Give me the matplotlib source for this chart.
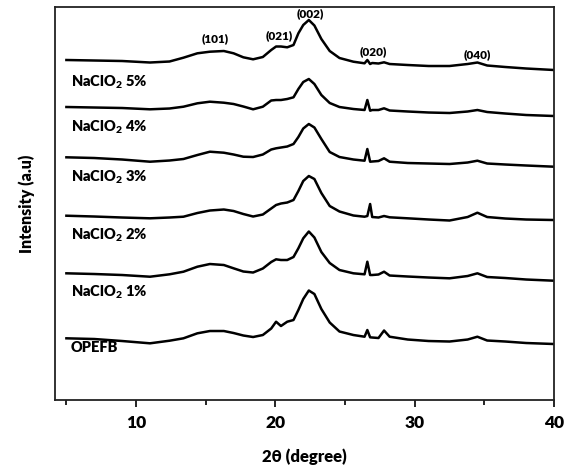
import numpy as np
import matplotlib
matplotlib.use('Agg')
import matplotlib.pyplot as plt
from matplotlib.ticker import MultipleLocator

plt.rcParams['font.family'] = ['Lato', 'DejaVu Sans']
plt.rcParams['font.weight'] = 'bold'
plt.rcParams['mathtext.fontset'] = 'custom'
plt.rcParams['mathtext.rm'] = 'Lato:heavy'
plt.rcParams['mathtext.default'] = 'rm'

# 2-theta positions (degree)
two_theta = [5, 7, 9, 11, 12.4, 13.4, 14.4, 15.3, 16.3, 17.0, 17.7, 18.4, 19.1, 19.7,
             20.05, 20.4, 20.85, 21.3, 21.65, 22.0, 22.4, 22.8, 23.3, 23.9, 24.6, 25.6,
             26.4, 26.6, 26.8, 26.95, 27.4, 27.8, 28.2, 29.5, 31, 32.5, 33.8, 34.5, 35.2,
             36.5, 38, 40]

# stacked intensities (a.u.), already offset as in the figure
naclo2_5 = [340, 339.5, 339, 337.5, 338.5, 342.3, 346.7, 348.3, 349, 346.7, 342.7, 340.7, 343, 350,
            353.5, 353.5, 352.7, 355, 366.7, 375, 380, 374.5, 361, 349, 342, 338.3,
            336.7, 340, 336, 337, 336.5, 337.7, 336, 335, 334, 334, 336, 337.5, 334.5,
            333, 331.5, 330]
naclo2_4 = [293, 292.5, 292, 290.7, 291.5, 293.3, 296.7, 298.3, 297.3, 296, 293.5, 290.7, 293.3, 299.5,
            300, 300, 301, 302.7, 311, 318, 321, 316, 305, 297, 293, 291,
            290, 300, 289.3, 290, 290, 291.7, 289.5, 288.5, 287.5, 287, 288.5, 290, 288,
            286.5, 285, 284]
naclo2_3 = [242.7, 242, 240.5, 238.3, 239.5, 241, 245, 248.3, 247.3, 245.5, 243.3, 243, 245.5, 250.5,
            251.7, 252.5, 253.5, 256, 263, 271.5, 276, 272.5, 261, 248, 243, 240.5,
            239.3, 251, 238.3, 238.5, 239, 241.7, 238.3, 237, 236.5, 236, 237.5, 239.3, 236.5,
            235.5, 234.5, 233.3]
naclo2_2 = [184.3, 183.5, 182.5, 181.7, 182.5, 183.3, 187, 189.5, 190.5, 189, 186, 183.5, 185.5, 191.5,
            195, 196.5, 197.5, 200, 209, 219, 224, 221, 207, 194, 188.5, 184.5,
            183.3, 184, 196, 183, 182.5, 184, 182.7, 181.7, 180.5, 179.5, 183, 187.3, 183,
            181.5, 180.5, 180]
naclo2_1 = [126.7, 126, 125, 123.3, 125.7, 128.3, 133.3, 136, 135, 131.7, 128.5, 127.5, 131.5, 138,
            140.7, 140, 140, 143, 151.7, 161.7, 168.5, 162.5, 148, 137, 130, 126.7,
            125.7, 138.3, 125, 125, 125.5, 128.3, 124.5, 123.5, 122.5, 121.7, 124, 126.7, 123,
            122, 120.5, 119.3]
opefb = [61.7, 61, 59, 56.7, 59.3, 61.7, 66.7, 69, 69, 67, 64.5, 63, 65, 71.5,
         78.3, 74, 78.3, 80, 90, 101, 109.5, 106, 91, 77.5, 68.5, 65,
         63.3, 70, 62.7, 62.5, 62, 69.5, 63.3, 60.5, 59, 58.5, 60.5, 63.3, 59.5,
         58.5, 57, 56]

series = [naclo2_5, naclo2_4, naclo2_3, naclo2_2, naclo2_1, opefb]
labels = ['NaClO$_2$ 5%', 'NaClO$_2$ 4%', 'NaClO$_2$ 3%', 'NaClO$_2$ 2%',
          'NaClO$_2$ 1%', 'OPEFB']
label_y = [318, 273, 223, 165, 108, 53]

# miller indices over the top pattern
hkl = ['(101)', '(021)', '(002)', '(020)', '(040)']
hkl_x = [15.7, 20.3, 22.5, 27.0, 34.5]
hkl_y = [361, 364, 386, 348, 345]

fig = plt.figure(figsize=(5.68, 4.70), dpi=100)
ax = fig.add_axes([0.0963, 0.1489, 0.8791, 0.8362])

for s in series:
    ax.plot(two_theta, s, color='black', lw=1.8, solid_joinstyle='round')

for lab, yy in zip(labels, label_y):
    ax.text(5.3, yy, lab, fontsize=10.5, fontweight='heavy', va='center', ha='left')

for t, xx, yy in zip(hkl, hkl_x, hkl_y):
    ax.text(xx, yy, t, fontsize=8.5, fontweight='heavy', ha='center', va='center')

ax.set_xlim(4.16, 40)
ax.set_ylim(0, 393)
ax.set_yticks([])
ax.xaxis.set_major_locator(MultipleLocator(10))
ax.xaxis.set_minor_locator(MultipleLocator(5))
ax.tick_params(axis='x', which='major', length=5, width=1.2, labelsize=12.5, pad=6)
ax.tick_params(axis='x', which='minor', length=3.5, width=1.2)
for lbl in ax.get_xticklabels():
    lbl.set_fontweight('heavy')
for sp in ax.spines.values():
    sp.set_linewidth(1.3)
    sp.set_color('#222222')

ax.set_xlabel('2θ (degree)', fontsize=12, fontweight='heavy', labelpad=12)
ax.set_ylabel('Intensity (a.u)', fontsize=11.5, fontweight='heavy', labelpad=14)

fig.savefig('out.png', dpi=100)
